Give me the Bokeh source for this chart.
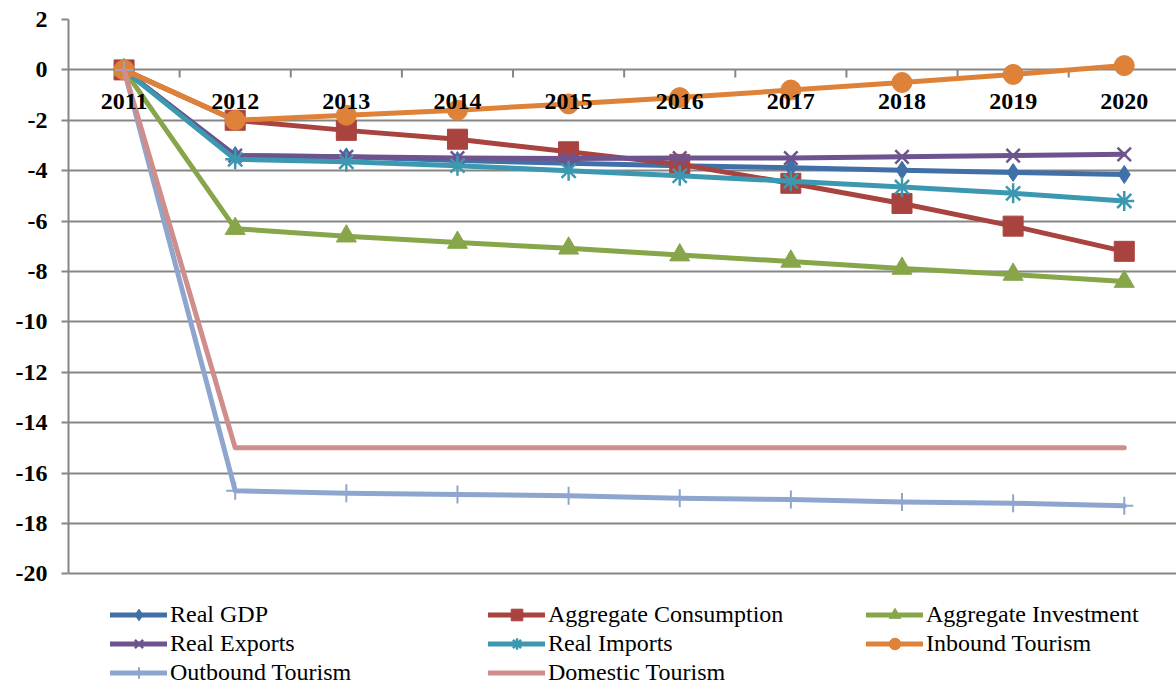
from bokeh.plotting import figure
from bokeh.models import Range1d, LinearAxis, FixedTicker, Legend, LegendItem, Grid
from bokeh.core.properties import value
from bokeh.embed import file_html
from bokeh.resources import INLINE

years = ["2011", "2012", "2013", "2014", "2015", "2016", "2017", "2018", "2019", "2020"]
real_gdp = [0, -3.4, -3.45, -3.6, -3.7, -3.8, -3.88, -3.98, -4.07, -4.15]
aggregate_consumption = [0, -2.0, -2.4, -2.75, -3.25, -3.75, -4.5, -5.3, -6.2, -7.2]
aggregate_investment = [0, -6.3, -6.6, -6.85, -7.08, -7.35, -7.6, -7.88, -8.12, -8.4]
real_exports = [0, -3.4, -3.45, -3.5, -3.52, -3.5, -3.5, -3.45, -3.4, -3.35]
real_imports = [0, -3.55, -3.65, -3.8, -4.0, -4.2, -4.42, -4.65, -4.9, -5.2]
inbound_tourism = [0, -2.0, -1.8, -1.6, -1.35, -1.1, -0.8, -0.5, -0.18, 0.17]
outbound_tourism = [0, -16.7, -16.8, -16.85, -16.9, -17.0, -17.05, -17.15, -17.2, -17.3]
domestic_tourism = [0, -15.0, -15.0, -15.0, -15.0, -15.0, -15.0, -15.0, -15.0, -15.0]
y_ticks = [-20, -18, -16, -14, -12, -10, -8, -6, -4, -2, 0, 2]

# label, values, color, marker, marker size, marker line width
series = [
    ("Real GDP", real_gdp, "#4170A8", "diamond", 18, 1),
    ("Aggregate Consumption", aggregate_consumption, "#A8433F", "square", 20, 1),
    ("Aggregate Investment", aggregate_investment, "#87A64A", "triangle", 20, 1),
    ("Real Exports", real_exports, "#6E548E", "x", 19, 2.5),
    ("Real Imports", real_imports, "#3C98B0", "asterisk", 20, 2.5),
    ("Inbound Tourism", inbound_tourism, "#DD8238", "circle", 20, 1),
    ("Outbound Tourism", outbound_tourism, "#8EA6CD", "cross", 18, 2),
    ("Domestic Tourism", domestic_tourism, "#CF8E8C", None, 0, 0),
]

GRID = "#868686"
SERIF = "Liberation Serif"

p = figure(width=1176, height=686, output_backend="svg", toolbar_location=None,
           x_range=Range1d(-0.5, 9.47), y_range=Range1d(-24.47, 2),
           x_axis_type=None, y_axis_type=None,
           min_border_left=68, min_border_right=0, min_border_top=19, min_border_bottom=0)
p.outline_line_color = None
p.background_fill_color = "white"
p.border_fill_color = "white"

yaxis = LinearAxis(ticker=FixedTicker(ticks=y_ticks), bounds=(min(y_ticks), max(y_ticks)))
yaxis.axis_line_color = GRID
yaxis.axis_line_width = 2
yaxis.major_tick_line_color = GRID
yaxis.major_tick_line_width = 2
yaxis.major_tick_in = 0
yaxis.major_tick_out = 7
yaxis.minor_tick_line_color = None
yaxis.major_label_standoff = 14
yaxis.major_label_text_font = SERIF
yaxis.major_label_text_font_style = "bold"
yaxis.major_label_text_font_size = "24px"
yaxis.major_label_text_color = "black"
yaxis.major_label_overrides = {t: str(t) for t in y_ticks}
p.add_layout(yaxis, "left")

p.add_layout(Grid(dimension=1, ticker=FixedTicker(ticks=y_ticks), bounds=(min(y_ticks), max(y_ticks)),
                  grid_line_color=GRID, grid_line_width=2))

idx = list(range(len(years)))

# category tick marks on the zero line
bounds_x = [i + 0.5 for i in idx[:-1]]
p.segment(x0=bounds_x, y0=[0] * len(bounds_x), x1=bounds_x, y1=[-0.3] * len(bounds_x),
          line_color=GRID, line_width=2)

items = {}
for label, vals, color, marker, size, mlw in series:
    rs = []
    ln = p.line(idx, vals, line_color=color, line_width=5, line_join="round", line_cap="round")
    rs.append(ln)
    if marker is not None:
        sc = p.scatter(idx, vals, marker=marker, size=size, fill_color=color,
                       line_color=color, line_width=mlw)
        rs.append(sc)
    items[label] = rs

# year labels below zero line
p.text(x=idx, y=[0] * len(idx), text=years, text_font=value(SERIF), text_font_style="bold",
       text_font_size="24px", text_align="center", text_baseline="middle", y_offset=32,
       text_color="black")

columns = [
    (["Real GDP", "Real Exports", "Outbound Tourism"], 42),
    (["Aggregate Consumption", "Real Imports", "Domestic Tourism"], 420),
    (["Aggregate Investment", "Inbound Tourism"], 798),
]
for labels, xpos in columns:
    n = len(labels)
    ypos = 686 - 600 - n * 29
    leg = Legend(items=[LegendItem(label=l, renderers=items[l]) for l in labels],
                 location=(xpos, ypos), orientation="vertical",
                 glyph_width=57, glyph_height=29, label_height=29, spacing=0,
                 padding=0, margin=0, label_standoff=3,
                 label_text_font=SERIF, label_text_font_size="24px", label_text_color="black",
                 border_line_alpha=0, background_fill_alpha=0)
    p.add_layout(leg, "center")

open("out.html", "w").write(file_html(p, INLINE))
